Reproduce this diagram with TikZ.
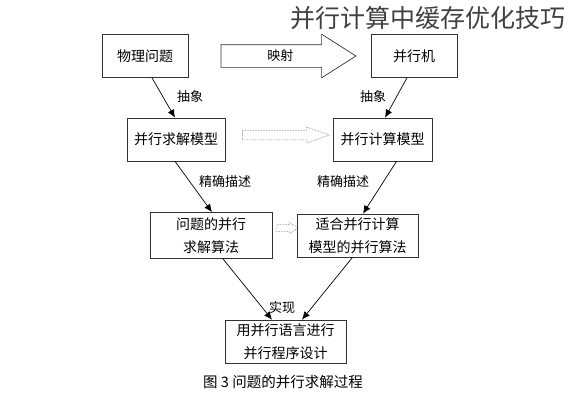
\documentclass[tikz,border=0pt]{standalone}
\usepackage{fontspec}
\newfontfamily\cjk{Noto Sans CJK SC}
\usetikzlibrary{arrows.meta,positioning,calc,shapes.arrows}

\tikzset{
  box/.style={draw=black!80, line width=0.7pt, fill=white, inner sep=2pt,
    font=\cjk\fontsize{14}{23}\selectfont, align=center},
  lbl/.style={font=\cjk\fontsize{13}{15}\selectfont, inner sep=1pt},
  flow/.style={-{Latex[length=8pt,width=7pt]}, line width=0.7pt},
  hollow/.style={single arrow, draw=black!55, densely dotted, line width=0.6pt,
    inner xsep=0pt, single arrow head indent=0pt}
}

\begin{document}
\begin{tikzpicture}[x=1pt, y=-1pt]
    \useasboundingbox (0,0) rectangle (572,400);

    % title
    \node[font=\cjk\fontsize{25}{28}\selectfont, text=black!75, inner sep=0pt] (title) at (428,18) {并行计算中缓存优化技巧};

    % top row
    \node[box, minimum width=86pt, minimum height=43pt] (phys) at (145,56) {物理问题};
    \node[box, minimum width=86pt, minimum height=43pt] (machine) at (414,56) {并行机};
    \node[single arrow, draw=black!80, line width=0.7pt, inner xsep=0pt,
      inner ysep=11pt, minimum height=135pt, single arrow head extend=10.5pt,
      single arrow tip angle=65, single arrow head indent=0pt]
      (map) at ($(phys.east)!0.5!(machine.west)$) {};
    \node[lbl] (maplbl) at ($(map.tail)!0.44!(map.tip)$) {映射};

    % models
    \node[box, minimum width=98pt, minimum height=43pt] (solvemodel) at (176,139.5) {并行求解模型};
    \node[box, minimum width=99pt, minimum height=43pt] (compmodel) at (382.5,139.5) {并行计算模型};
    \node[hollow, inner ysep=4.5pt, minimum height=87pt, single arrow head extend=3pt,
      single arrow tip angle=38] (modelmap) at ($(solvemodel.east)!0.5!(compmodel.west)+(0,-4.5)$) {};

    % algorithms
    \node[box, minimum width=122pt, minimum height=46pt] (probalg) at (211,235.5) {问题的并行\\求解算法};
    \node[box, minimum width=121pt, minimum height=43pt] (fitalg) at (357.5,235.5) {适合并行计算\\模型的并行算法};
    \node[hollow, inner ysep=3pt, minimum height=22pt, single arrow head extend=2pt,
      single arrow tip angle=64] (algmap) at ($(probalg.east)!0.5!(fitalg.west)+(0,-7.5)$) {};

    % program
    \node[box, minimum width=121pt, minimum height=43pt] (impl) at (285.5,341.5) {用并行语言进行\\并行程序设计};

    % connectors
    \draw[flow] ([xshift=7pt]phys.south) -- ([xshift=-1pt]solvemodel.north);
    \draw[flow] ([xshift=-7pt]machine.south) -- ([xshift=2.5pt]compmodel.north);
    \draw[flow] ([xshift=-1pt]solvemodel.south) -- ([xshift=1pt]probalg.north);
    \draw[flow] ([xshift=14pt]compmodel.south) -- ([xshift=5.5pt]fitalg.north);
    \draw[flow] ([xshift=12pt]probalg.south) -- ([xshift=-13.5pt]impl.north);
    \draw[flow] ([xshift=-5pt]fitalg.south) -- ([xshift=16.5pt]impl.north);

    % labels
    \node[lbl] (abs1) at (190,97) {抽象};
    \node[lbl] (abs2) at (373,97) {抽象};
    \node[lbl] (desc1) at (225,182) {精确描述};
    \node[lbl] (desc2) at (343,182) {精确描述};
    \node[lbl] (realize) at (282,308) {实现};

    % caption
    \node[lbl, font=\cjk\fontsize{14.5}{16}\selectfont] (caption) at (283,382) {图\ 3\ 问题的并行求解过程};
\end{tikzpicture}
\end{document}
